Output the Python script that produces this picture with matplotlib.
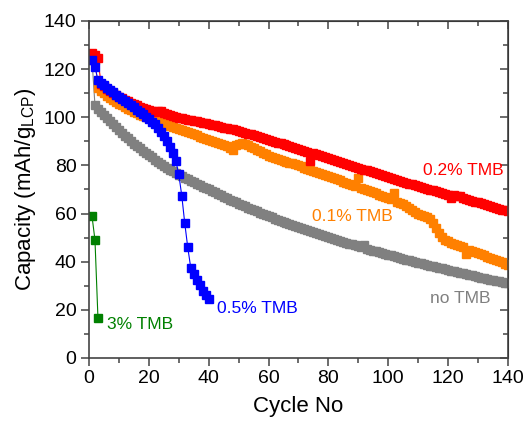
import matplotlib
matplotlib.use('Agg')
import matplotlib.pyplot as plt
from matplotlib.ticker import MultipleLocator

plt.rcParams['font.family'] = ['Liberation Sans', 'DejaVu Sans']
plt.rcParams['mathtext.default'] = 'regular'

# cycle numbers and capacities (mAh/g LCP)
no_tmb = [124.0, 105.0, 103.6, 102.2, 100.9, 99.6, 98.3, 97.0, 95.8, 94.6,
          93.4, 92.3, 91.2, 90.1, 89.1, 88.1, 87.1, 86.1, 85.1, 84.2,
          83.3, 82.4, 81.5, 80.7, 79.9, 79.1, 78.3, 77.5, 76.8, 76.0,
          75.4, 74.8, 74.2, 73.6, 73.0, 72.4, 71.8, 71.2, 70.6, 70.0,
          69.4, 68.8, 68.2, 67.6, 67.0, 66.4, 65.8, 65.2, 64.6, 64.0,
          63.5, 63.0, 62.4, 61.9, 61.4, 60.9, 60.4, 59.9, 59.4, 58.9,
          58.4, 57.9, 57.5, 57.0, 56.6, 56.1, 55.7, 55.2, 54.8, 54.4,
          54.0, 53.5, 53.1, 52.7, 52.3, 51.9, 51.5, 51.1, 50.7, 50.3,
          49.9, 49.5, 49.1, 48.7, 48.3, 47.9, 47.5, 47.2, 46.8, 46.4,
          46.0, 47.0, 45.3, 45.0, 44.6, 44.3, 43.9, 43.6, 43.2, 42.9,
          42.6, 42.2, 41.9, 41.6, 41.2, 40.9, 40.6, 40.3, 39.9, 39.6,
          39.3, 39.0, 38.7, 38.4, 38.1, 37.8, 37.5, 37.2, 36.9, 36.6,
          36.3, 36.0, 35.7, 35.4, 35.1, 34.8, 34.5, 34.3, 34.0, 33.7,
          33.4, 33.1, 32.9, 32.6, 32.3, 32.0, 31.8, 31.5, 31.2, 31.0]

tmb_01 = [125.5, 124.0, 112.0, 111.0, 110.0, 109.0, 108.1, 107.2, 106.4, 105.6,
          104.9, 104.2, 103.5, 102.9, 102.3, 101.7, 101.1, 100.6, 100.1, 99.6,
          99.1, 98.6, 98.1, 97.7, 97.3, 96.9, 96.5, 96.1, 95.7, 95.3,
          94.9, 94.5, 94.0, 93.5, 93.0, 92.5, 92.0, 91.5, 91.0, 90.5,
          90.1, 89.7, 89.3, 88.9, 88.5, 88.1, 87.3, 86.6, 88.5, 89.0,
          89.3, 89.0, 88.4, 87.8, 87.2, 86.5, 85.8, 85.2, 84.6, 84.1,
          83.6, 83.2, 82.8, 82.4, 82.0, 81.6, 81.2, 80.8, 80.4, 80.0,
          79.6, 79.1, 78.7, 78.3, 77.8, 77.4, 76.9, 76.5, 76.0, 75.6,
          75.2, 74.7, 74.3, 73.8, 73.3, 72.9, 72.4, 71.9, 71.4, 74.8,
          70.5, 70.0, 69.6, 69.2, 68.8, 68.4, 67.9, 67.5, 67.0, 66.5,
          66.0, 68.6, 65.0, 64.4, 63.8, 63.0, 62.2, 61.4, 60.6, 60.0,
          59.4, 58.9, 58.5, 57.8, 56.2, 54.0, 51.8, 50.2, 49.2, 48.5,
          47.9, 47.4, 46.9, 46.4, 45.9, 43.0, 45.0, 44.6, 44.1, 43.6,
          43.1, 42.6, 42.1, 41.6, 41.1, 40.6, 40.2, 39.7, 39.2, 38.8]

tmb_02 = [126.5, 126.0, 124.5, 114.0, 112.8, 111.8, 110.9, 110.0, 109.2, 108.5,
          107.8, 107.2, 106.6, 106.0, 105.5, 105.0, 104.4, 103.9, 103.4, 103.0,
          102.6, 102.2, 102.8, 102.5, 101.6, 101.2, 100.9, 100.6, 100.2, 99.9,
          99.6, 99.3, 99.0, 98.7, 98.4, 98.6, 98.1, 97.8, 97.5, 97.2,
          96.9, 96.6, 96.3, 96.0, 95.7, 95.4, 95.1, 95.3, 94.7, 94.3,
          94.0, 93.6, 93.2, 92.9, 92.5, 92.1, 91.8, 91.4, 91.0, 90.6,
          90.3, 89.9, 89.5, 89.2, 88.8, 88.4, 88.0, 87.6, 87.3, 86.9,
          86.5, 86.1, 85.7, 81.8, 85.0, 84.6, 84.2, 83.8, 83.4, 83.0,
          82.6, 82.2, 81.9, 81.5, 81.1, 80.7, 80.3, 79.9, 79.5, 79.1,
          78.7, 78.3, 77.9, 77.5, 77.1, 76.7, 76.3, 75.9, 75.5, 75.1,
          74.7, 74.3, 74.0, 73.6, 73.2, 72.8, 72.4, 72.1, 71.7, 71.3,
          71.0, 70.6, 70.3, 69.9, 69.6, 69.2, 68.9, 68.5, 68.2, 67.8,
          66.5, 67.6, 67.2, 67.5, 66.6, 66.2, 65.8, 65.4, 65.0, 64.6,
          64.2, 63.8, 63.4, 63.0, 62.6, 62.2, 61.9, 61.6, 61.3, 61.0]

tmb_05 = [124.0, 121.0, 115.5, 114.3, 113.2, 112.2, 111.2, 110.3, 109.4, 108.6,
          107.7, 106.8, 105.9, 105.0, 104.1, 103.2, 102.2, 101.2, 100.2, 99.2,
          98.2, 97.0, 95.6, 94.0, 92.2, 90.2, 87.8, 85.2, 82.0, 76.3,
          67.5, 56.0, 46.0, 37.5, 35.0, 32.5, 30.2, 28.0, 26.2, 24.5]

tmb_3 = [59.0, 49.0, 16.5]

series = [
    (no_tmb, '#808080', 'no TMB', 114, 24.8),
    (tmb_01, '#ff8000', '0.1% TMB', 74.5, 58.7),
    (tmb_02, '#ff0000', '0.2% TMB', 111.7, 77.8),
    (tmb_05, '#0000ff', '0.5% TMB', 42.9, 20.4),
    (tmb_3, '#008000', '3% TMB', 6.1, 14.1),
]

fig = plt.figure(figsize=(5.25, 4.24), dpi=100)
ax = fig.add_axes([0.1695, 0.1557, 0.798, 0.7948])

for vals, col, name, tx, ty in series:
    cycles = list(range(1, len(vals) + 1))
    ax.plot(cycles, vals, color=col, lw=0.8, marker='s', ms=5.2,
            mec=col, mfc=col)
    ax.text(tx, ty, name, color=col, fontsize=12.5, ha='left', va='center')

ax.set_xlim(0, 140)
ax.set_ylim(0, 140)
ax.xaxis.set_major_locator(MultipleLocator(20))
ax.xaxis.set_minor_locator(MultipleLocator(10))
ax.yaxis.set_major_locator(MultipleLocator(20))
ax.yaxis.set_minor_locator(MultipleLocator(10))

for s in ax.spines.values():
    s.set_color('#444444')
    s.set_linewidth(1.2)

ax.tick_params(which='both', direction='out', colors='#444444', width=1.1,
               labelsize=14, labelcolor='black', pad=3)
ax.tick_params(which='major', length=6)
ax.tick_params(which='minor', length=3.5)

# inward ticks on top and right, no labels
top = ax.secondary_xaxis('top')
top.xaxis.set_major_locator(MultipleLocator(20))
top.xaxis.set_minor_locator(MultipleLocator(10))
top.tick_params(which='both', direction='in', colors='#444444', width=1.1, labeltop=False)
top.tick_params(which='major', length=6)
top.tick_params(which='minor', length=3.5)
right = ax.secondary_yaxis('right')
right.yaxis.set_major_locator(MultipleLocator(20))
right.yaxis.set_minor_locator(MultipleLocator(10))
right.tick_params(which='both', direction='in', colors='#444444', width=1.1, labelright=False)
right.tick_params(which='major', length=6)
right.tick_params(which='minor', length=3.5)

ax.set_xlabel('Cycle No', fontsize=16, labelpad=6)
ax.set_ylabel('Capacity (mAh/g$_{LCP}$)', fontsize=16, labelpad=4)

fig.savefig('out.png', dpi=100)
